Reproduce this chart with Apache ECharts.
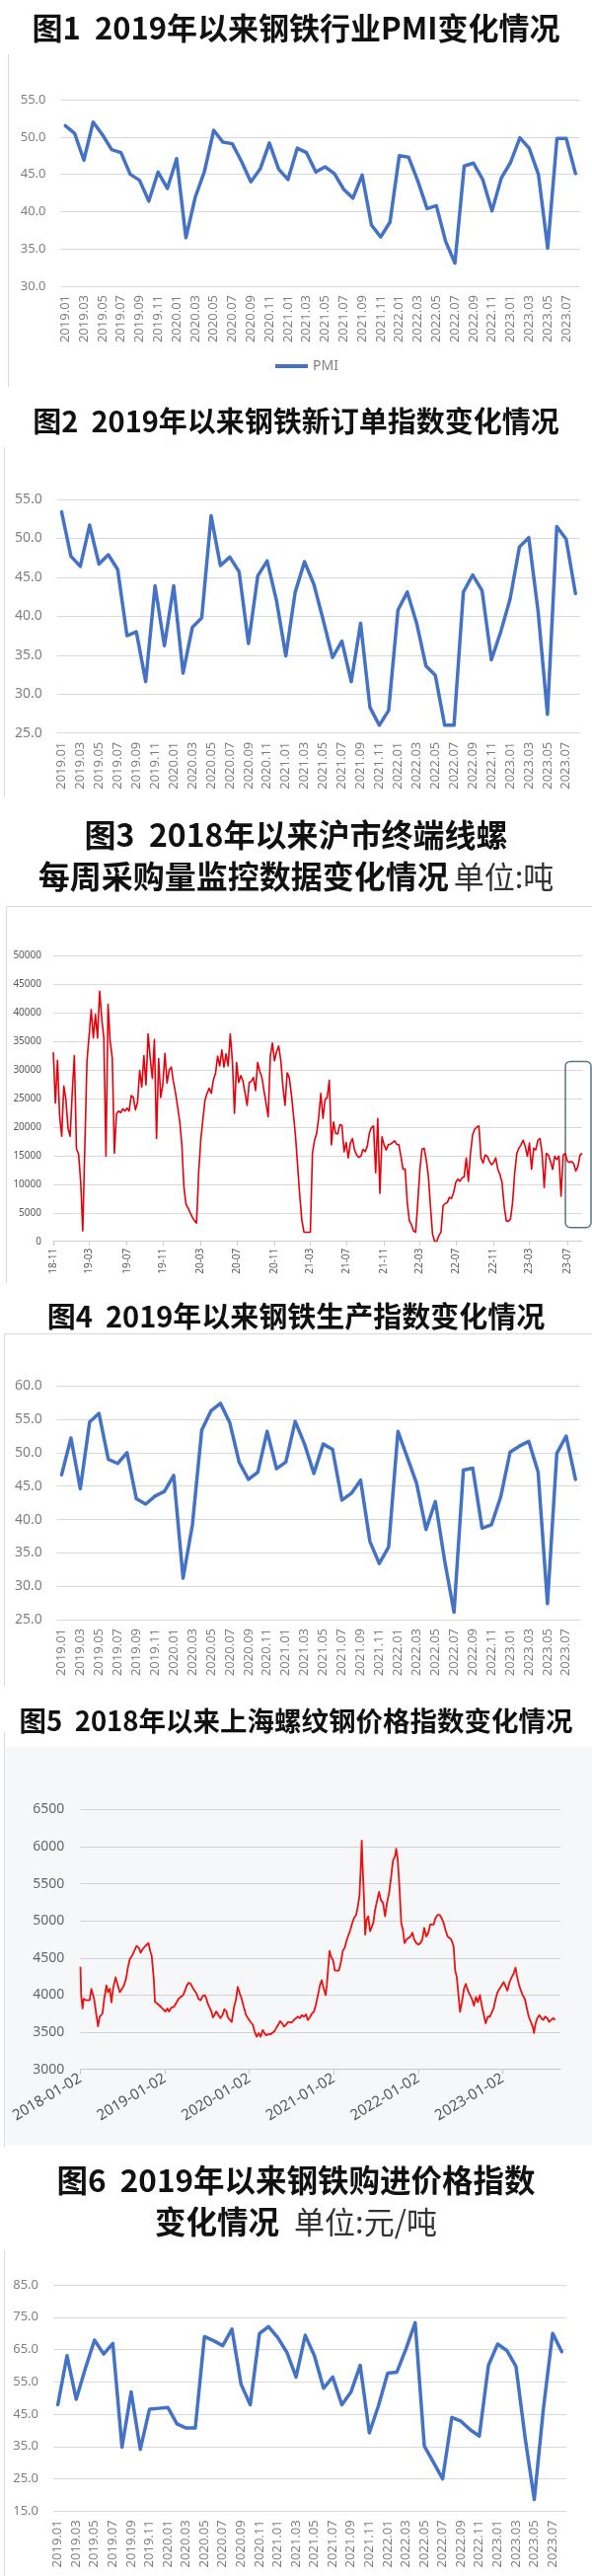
<!DOCTYPE html>
<html><head><meta charset="utf-8">
<script src="https://cdn.jsdelivr.net/npm/echarts@6/dist/echarts.min.js"></script>
<style>html,body{margin:0;padding:0;background:#fff}#c{width:600px;height:2610px}</style>
</head><body><div id="c"></div>
<script>
// ---------- data ----------
const monthStartYear = 2019, monthCount = 56; // 2019.01 .. 2023.08
const pmi = [51.5,50.5,46.9,52.0,50.3,48.3,47.9,45.0,44.2,41.4,
  45.3,43.1,47.1,36.5,41.9,45.4,50.9,49.3,49.1,46.7,
  44.0,45.7,49.2,45.7,44.3,48.5,47.9,45.3,46.0,45.1,
  43.0,41.8,44.9,38.2,36.6,38.6,47.5,47.3,44.1,40.4,
  40.8,36.0,33.1,46.1,46.5,44.3,40.1,44.5,46.6,49.9,
  48.5,45.0,35.1,49.8,49.8,45.1];
const newOrders = [53.4,47.7,46.4,51.7,46.7,47.9,46.0,37.5,38.0,31.6,
  43.9,36.2,43.9,32.7,38.6,39.8,52.9,46.5,47.6,45.7,
  36.5,45.2,47.1,42.0,34.9,43.1,47.0,44.1,39.5,34.7,
  36.8,31.6,39.1,28.3,26.0,27.9,40.8,43.1,39.1,33.6,
  32.4,26.0,26.0,43.1,45.3,43.3,34.4,38.0,42.2,48.9,
  50.1,40.6,27.4,51.5,49.9,42.9];
const production = [46.7,52.2,44.6,54.6,55.9,49.0,48.4,50.0,43.1,42.3,
  43.5,44.2,46.6,31.2,39.2,53.4,56.3,57.4,54.5,48.6,
  46.0,47.1,53.2,47.6,48.6,54.7,51.3,46.9,51.3,50.5,
  42.9,43.9,45.9,36.7,33.4,35.9,53.2,49.3,45.4,38.5,
  42.7,33.8,26.1,47.4,47.7,38.7,39.2,43.4,50.1,51.0,
  51.7,47.1,27.4,49.9,52.5,46.0];
const purchasePrice = [47.9,63.1,49.6,59.1,67.9,63.6,66.9,34.8,51.9,34.1,
  46.5,46.8,47.1,42.0,40.7,40.7,69.0,67.7,66.2,71.3,
  54.2,47.9,69.9,72.1,68.7,64.1,56.5,69.4,63.1,53.0,
  56.5,47.9,51.9,60.1,39.2,47.7,57.7,58.0,65.2,73.3,
  35.1,30.1,25.0,44.0,42.8,40.2,38.2,60.1,66.7,64.7,
  59.8,37.7,18.6,46.8,70.0,64.3];

const weeklyStart = '2018-11-02';
const weeklyPurchase = [
  33100,24200,31700,22000,18400,27200,24800,19800,18400,26000,
  32500,16200,15300,10500,1800,17000,31600,36000,40600,35600,
  39700,35600,43800,39000,35600,14900,41500,35000,32100,15400,
  22300,22800,22500,23200,22800,23300,22800,25500,25200,23000,
  24400,29900,27000,32500,27400,36300,32100,28500,35300,18000,
  32000,25200,27500,32900,27700,30000,30500,28000,26000,23600,
  21000,17000,9500,6500,5800,5000,4200,3600,3200,12000,
  17700,21300,24700,25900,26800,25900,28300,29400,32400,30700,
  33500,30500,32800,30700,
  36300,31600,22400,31300,27800,29000,28100,26000,23800,27800,
  28000,28700,26400,31300,29800,28700,26400,24100,21800,32400,
  34700,31600,33200,34200,31600,27000,23800,29500,28700,25800,
  22100,18300,13100,7900,3600,1600,1600,1600,1600,15400,
  17700,18900,21800,25900,21500,24800,25200,28200,16900,20900,
  18900,18800,20400,20300,15700,17300,14600,17200,18000,16000,
  15100,14700,14900,16100,15700,16600,18900,19900,20200,12000,
  21500,8400,18300,16900,16000,16900,17000,17300,17600,17000,
  16900,14900,12600,12700,6800,3600,2900,1800,
  1600,6800,12600,16100,16300,14300,11500,6200,1300,0,
  0,1000,1600,6200,6600,6800,7700,7500,8500,10300,
  10900,10500,11100,11300,14600,10500,15400,18600,19600,20000,
  20200,14600,13700,15100,14900,14000,13400,13800,14600,12600,
  11700,10300,6200,3600,3500,3900,6800,12000,15400,16300,
  16900,17700,16600,14900,17200,12600,16300,16000,17700,18000,
  15400,9400,15400,15100,14000,12600,14900,14300,14900,7900,
  15100,15400,14000,13800,14000,13600,12300,13100,15100,15400];

const rebarDates = ['2018-01-02','2018-01-05','2018-01-11','2018-01-16','2018-01-27','2018-02-11','2018-02-18','2018-02-25','2018-03-02','2018-03-12','2018-03-19','2018-03-26','2018-04-07','2018-04-15','2018-04-24','2018-05-01','2018-05-09','2018-05-16','2018-05-23','2018-06-03','2018-06-11','2018-06-21','2018-07-01','2018-07-09','2018-07-18','2018-07-26','2018-08-03','2018-08-13','2018-08-23','2018-09-01','2018-09-11','2018-09-19','2018-09-28','2018-10-09','2018-10-16','2018-10-23','2018-10-30','2018-11-06','2018-11-15','2018-11-20','2018-11-29','2018-12-07','2018-12-16','2018-12-25',
'2019-01-05','2019-01-13','2019-01-20','2019-01-30','2019-02-10','2019-02-21','2019-03-02','2019-03-12','2019-03-22','2019-03-30','2019-04-07','2019-04-14','2019-04-24','2019-05-02','2019-05-10','2019-05-19','2019-05-27','2019-06-06','2019-06-14','2019-06-23','2019-06-30','2019-07-06','2019-07-13','2019-07-22','2019-07-29','2019-08-04','2019-08-12','2019-08-19','2019-08-30','2019-09-08','2019-09-16','2019-09-25','2019-10-01','2019-10-08','2019-10-18','2019-10-28','2019-11-06','2019-11-13','2019-11-20','2019-11-30','2019-12-09','2019-12-19','2019-12-27',
'2020-01-07','2020-01-17','2020-01-25','2020-02-03','2020-02-12','2020-02-20','2020-02-29','2020-03-07','2020-03-15','2020-03-24','2020-04-02','2020-04-10','2020-04-19','2020-04-27','2020-05-06','2020-05-14','2020-05-23','2020-05-31','2020-06-09','2020-06-18','2020-06-26','2020-07-04','2020-07-13','2020-07-21','2020-07-30','2020-08-08','2020-08-16','2020-08-25','2020-09-03','2020-09-11','2020-09-20','2020-09-28','2020-10-07','2020-10-15','2020-10-23','2020-11-02','2020-11-10','2020-11-19','2020-11-27','2020-12-02','2020-12-08','2020-12-14','2020-12-19','2020-12-25','2020-12-30',
'2021-01-06','2021-01-14','2021-01-23','2021-02-01','2021-02-09','2021-02-18','2021-02-25','2021-03-03','2021-03-13','2021-03-21','2021-03-30','2021-04-08','2021-04-15','2021-04-22','2021-04-28','2021-05-02','2021-05-06','2021-05-12','2021-05-17','2021-05-23','2021-05-30','2021-06-07','2021-06-14','2021-06-21','2021-06-29','2021-07-08','2021-07-16','2021-07-24','2021-08-02','2021-08-11','2021-08-19','2021-08-28','2021-09-06','2021-09-14','2021-09-23','2021-09-28','2021-10-05','2021-10-12','2021-10-20','2021-10-27','2021-11-03','2021-11-12','2021-11-20','2021-11-29','2021-12-07','2021-12-15','2021-12-24',
'2022-01-02','2022-01-11','2022-01-19','2022-01-27','2022-02-05','2022-02-14','2022-02-22','2022-03-01','2022-03-09','2022-03-17','2022-03-26','2022-04-04','2022-04-12','2022-04-21','2022-04-29','2022-05-08','2022-05-16','2022-05-24','2022-06-03','2022-06-10','2022-06-17','2022-06-25','2022-07-01','2022-07-09','2022-07-18','2022-07-26','2022-08-04','2022-08-13','2022-08-21','2022-08-30','2022-09-08','2022-09-16','2022-09-25','2022-10-03','2022-10-12','2022-10-20','2022-10-29','2022-11-07','2022-11-15','2022-11-23','2022-12-02','2022-12-10','2022-12-19','2022-12-27',
'2023-01-06','2023-01-14','2023-01-22','2023-01-31','2023-02-09','2023-02-17','2023-02-26','2023-03-04','2023-03-12','2023-03-21','2023-03-29','2023-04-07','2023-04-16','2023-04-24','2023-05-03','2023-05-11','2023-05-17','2023-05-22','2023-05-31','2023-06-09','2023-06-17','2023-06-26','2023-07-04','2023-07-13','2023-07-21','2023-07-30','2023-08-08','2023-08-16'];
const rebarPrices = [4380,4000,3820,3950,3930,3930,4085,4110,3950,3730,3580,3710,3750,3950,4130,4040,4085,3900,4085,4240,4150,4040,4085,4130,4220,4370,4480,4530,4595,4660,4640,4570,4620,4660,4680,4700,4600,4530,4220,3910,3890,3890,3840,3810,
3780,3820,3780,3830,3840,3900,3950,3975,4000,4060,4130,4165,4150,4100,4085,4020,3950,3930,3985,4000,3960,3890,3840,3780,3700,3730,3780,3800,3690,3730,3810,3780,3700,3680,3640,3840,3950,4110,4040,3950,3840,3730,3690,
3640,3600,3510,3440,3490,3440,3530,3490,3460,3475,3470,3490,3510,3555,3600,3650,3620,3575,3600,3640,3665,3630,3665,3690,3710,3690,3730,3710,3740,3665,3700,3750,3775,3860,3975,4130,4200,4085,4000,4130,4370,4595,4530,4550,4460,
4330,4320,4330,4440,4595,4640,4730,4750,4870,4960,5040,5080,5190,5330,5725,6080,5725,5280,4815,5015,5060,4860,4860,4970,5150,5280,5390,5280,5240,5060,5240,5370,5590,5810,5870,5970,5810,5450,4970,4880,4700,4750,4770,4790,4840,4750,4700,
4680,4700,4750,4905,4790,4840,4950,4970,4950,5040,5080,5080,5040,4970,4880,4790,4815,4750,4660,4330,4240,4220,3775,3905,4085,4150,4060,4000,3950,3860,3975,3905,4000,3860,3730,3620,3710,3710,3730,3820,3950,4040,4085,4110,
4175,4150,4060,4175,4240,4285,4370,4260,4150,4060,4000,3950,3820,3710,3640,3575,3490,3600,3690,3730,3690,3665,3710,3690,3640,3665,3690,3665];

// ---------- derived categories ----------
const months = [];
for (let i = 0; i < monthCount; i++) {
  const y = monthStartYear + Math.floor(i / 12), m = i % 12 + 1;
  months.push(y + '.' + String(m).padStart(2, '0'));
}
const DAY = 86400000;
const weekDates = weeklyPurchase.map((_, i) => new Date(Date.parse(weeklyStart) + i * 7 * DAY).toISOString().slice(0, 10));
const YEAR_MS = 365.25 * DAY;

// ---------- styling helpers ----------
const BLUE = '#4472c4';
const LBL = 'Noto Sans, sans-serif';
const CJK = 'Noto Sans CJK SC';
function monthX(gi) {
  return {type: 'category', gridIndex: gi, data: months, boundaryGap: true,
    axisLine: {show: false}, axisTick: {show: false},
    axisLabel: {interval: 1, rotate: 90, fontSize: 13, color: '#808080', fontFamily: LBL, margin: 9}};
}
function valY(gi, min, max, step, fs) {
  return {type: 'value', gridIndex: gi, min: min, max: max, interval: step,
    axisLine: {show: false}, axisTick: {show: false},
    splitLine: {lineStyle: {color: '#d9d9d9', width: 1}},
    axisLabel: {fontSize: fs || 13, color: '#808080', fontFamily: LBL, margin: 15, formatter: v => v.toFixed(1)}};
}
function blueLine(name, xi, data) {
  return {name: name, type: 'line', xAxisIndex: xi, yAxisIndex: xi, data: data, symbol: 'none',
    lineStyle: {color: BLUE, width: 3.5, cap: 'round', join: 'round'}, itemStyle: {color: BLUE}, silent: true};
}
function title(text, top, fs, extra) {
  return Object.assign({text: text, left: 'center', top: top, padding: 0,
    textStyle: {fontSize: fs, fontWeight: 'bold', color: '#111', fontFamily: CJK, lineHeight: fs + 4}}, extra || {});
}
const weekLabelShow = (idx, val) => {
  if (idx === 0) return true;
  const m = +val.slice(5, 7);
  return (m === 3 || m === 7 || m === 11) && weekDates[idx - 1].slice(5, 7) !== val.slice(5, 7);
};

const chart = echarts.init(document.getElementById('c'), null, {renderer: 'canvas'});
const option = {
  animation: false,
  backgroundColor: '#fff',
  title: [
    title('图1  2019年以来钢铁行业PMI变化情况', 11, 31),
    title('图2  2019年以来钢铁新订单指数变化情况', 410, 29),
    title('图3  2018年以来沪市终端线螺', 828, 32),
    {text: '{a|每周采购量监控数据变化情况} {b|单位:吨}', left: 'center', top: 870, padding: 0,
      textStyle: {rich: {
        a: {fontSize: 32, fontWeight: 'bold', color: '#111', fontFamily: CJK, lineHeight: 36},
        b: {fontSize: 31, fontWeight: 'normal', color: '#333', fontFamily: CJK, lineHeight: 36}}}},
    title('图4  2019年以来钢铁生产指数变化情况', 1317, 29),
    title('图5  2018年以来上海螺纹钢价格指数变化情况', 1728, 27.5),
    title('图6  2019年以来钢铁购进价格指数', 2191, 31.5),
    {text: '{a|变化情况}   {b|单位:元/吨}', left: 'center', top: 2233, padding: 0,
      textStyle: {rich: {
        a: {fontSize: 31.5, fontWeight: 'bold', color: '#111', fontFamily: CJK, lineHeight: 36},
        b: {fontSize: 31, fontWeight: 'normal', color: '#333', fontFamily: CJK, lineHeight: 36}}}}
  ],
  legend: {data: [{name: 'PMI', icon: 'rect'}], left: 279, top: 364, itemWidth: 33, itemHeight: 4, padding: 0,
    itemStyle: {color: BLUE}, itemGap: 4,
    textStyle: {fontSize: 14, color: '#808080', fontFamily: LBL, lineHeight: 14}},
  grid: [
    {left: 61.5, top: 101, width: 526.5, height: 189, outerBoundsMode: 'none'},
    {left: 57.7, top: 506, width: 530.3, height: 236.7, outerBoundsMode: 'none'},
    {left: 54, top: 968.3, width: 536, height: 289.4, outerBoundsMode: 'none'},
    {left: 57.7, top: 1404.3, width: 530.3, height: 236.7, outerBoundsMode: 'none'},
    {left: 81.3, top: 1833.3, width: 486.7, height: 263.4, outerBoundsMode: 'none'},
    {left: 54, top: 2315, width: 520, height: 229.3, outerBoundsMode: 'none'}
  ],
  xAxis: [
    monthX(0), monthX(1),
    {type: 'category', gridIndex: 2, data: weekDates, boundaryGap: false,
      axisLine: {show: true, lineStyle: {color: '#d0d0d0'}},
      axisTick: {show: true, interval: weekLabelShow, length: 4, lineStyle: {color: '#c8c8c8'}},
      axisLabel: {interval: weekLabelShow, rotate: 90, fontSize: 10, color: '#595959', fontFamily: LBL, margin: 7,
        formatter: v => v.slice(2, 4) + '-' + v.slice(5, 7)}},
    monthX(3),
    {type: 'value', gridIndex: 4, min: Date.UTC(2018, 0, 1), max: Date.parse('2023-09-08'), interval: YEAR_MS,
      splitLine: {show: false},
      axisLine: {show: true, lineStyle: {color: '#c8c8c8'}},
      axisTick: {show: true, length: 5, lineStyle: {color: '#c8c8c8'}},
      axisLabel: {rotate: 31, fontSize: 15, color: '#555', fontFamily: LBL, margin: 8, showMaxLabel: false,
        formatter: v => {
          const k = v / YEAR_MS;
          if (Math.abs(k - Math.round(k)) > 0.02) return '';
          return (1970 + Math.round(k)) + '-01-02';
        }}},
    monthX(5)
  ],
  yAxis: [
    valY(0, 30, 55, 5),
    valY(1, 25, 55, 5, 14),
    {type: 'value', gridIndex: 2, min: 0, max: 50000, interval: 5000,
      axisLine: {show: false}, axisTick: {show: false},
      splitLine: {lineStyle: {color: '#d9d9d9'}},
      axisLabel: {fontSize: 10, color: '#595959', fontFamily: LBL, margin: 12, formatter: v => String(v)}},
    valY(3, 25, 60, 5, 14),
    {type: 'value', gridIndex: 4, min: 3000, max: 6500, interval: 500,
      axisLine: {show: false}, axisTick: {show: false},
      splitLine: {lineStyle: {color: '#d3d3d3', width: 1.2}},
      axisLabel: {fontSize: 14, color: '#666', fontFamily: LBL, margin: 16, formatter: v => String(v)}},
    valY(5, 15, 85, 10)
  ],
  series: [
    blueLine('PMI', 0, pmi),
    blueLine('新订单指数', 1, newOrders),
    {name: '采购量', type: 'line', xAxisIndex: 2, yAxisIndex: 2, data: weeklyPurchase, symbol: 'none',
      lineStyle: {color: '#e8000b', width: 1.6, join: 'round'}, silent: true},
    blueLine('生产指数', 3, production),
    {name: '螺纹钢价格指数', type: 'line', xAxisIndex: 4, yAxisIndex: 4, symbol: 'none',
      data: rebarDates.map((d, i) => [Date.parse(d), rebarPrices[i]]),
      lineStyle: {color: '#ee1111', width: 1.8, join: 'round'}, silent: true},
    blueLine('购进价格指数', 5, purchasePrice)
  ]
};
chart.setOption(option);

// frames, background and the highlight box in figure 3
const annIdx = weekDates.findIndex(d => d.startsWith('2023-07'));
const annLeft = chart.convertToPixel({xAxisIndex: 2}, annIdx) - 2;
const annTop = chart.convertToPixel({yAxisIndex: 2}, 31500);
const annBottom = chart.convertToPixel({yAxisIndex: 2}, 2400);
const frame = {stroke: '#d9d9d9', lineWidth: 1, fill: null};
chart.setOption({
  graphic: [
    {type: 'rect', z: -10, silent: true, shape: {x: 6, y: 1770, width: 594, height: 403}, style: {fill: '#f6f7f9'}},
    {type: 'polyline', silent: true, shape: {points: [[8.5, 55], [8.5, 392]]}, style: frame},
    {type: 'polyline', silent: true, shape: {points: [[4.5, 453], [4.5, 807]]}, style: frame},
    {type: 'polyline', silent: true, shape: {points: [[600, 918.5], [6.5, 918.5], [6.5, 1300]]}, style: frame},
    {type: 'polyline', silent: true, shape: {points: [[600, 1351.5], [4.5, 1351.5], [4.5, 1708]]}, style: frame},
    {type: 'polyline', silent: true, shape: {points: [[4.5, 1755], [4.5, 2175]]}, style: frame},
    {type: 'polyline', silent: true, shape: {points: [[4.5, 2280], [4.5, 2610]]}, style: frame},
    {type: 'rect', silent: true, shape: {x: annLeft, y: annTop, width: 599 - annLeft, height: annBottom - annTop, r: 5},
      style: {fill: null, stroke: '#5a7480', lineWidth: 1.5}}
  ]
});
</script></body></html>
